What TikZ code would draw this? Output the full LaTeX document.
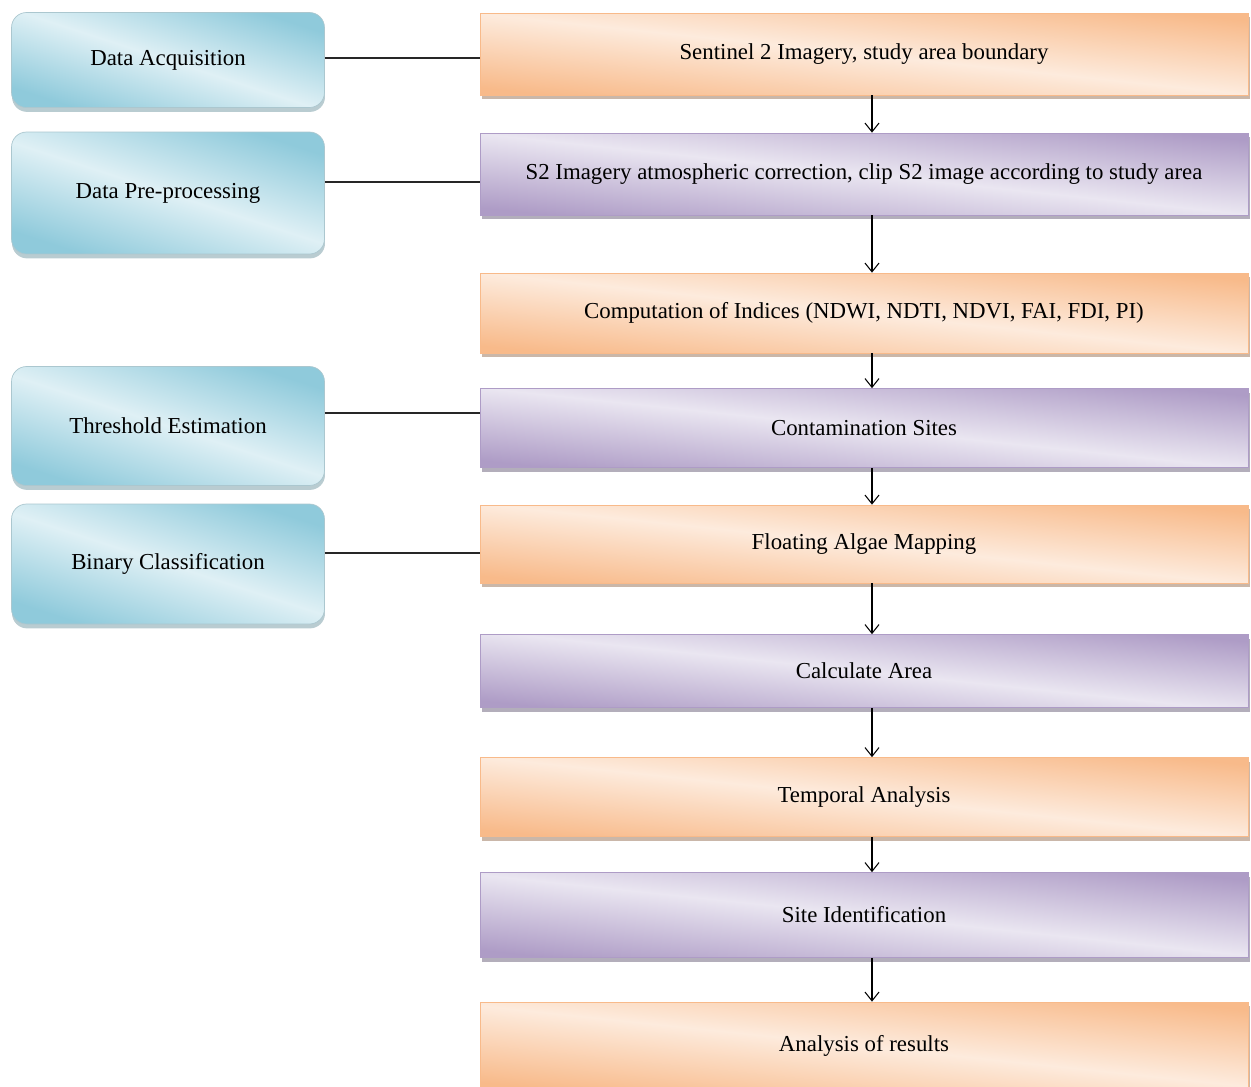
\documentclass[tikz,border=0pt]{standalone}
\usepackage{fontspec}
\setmainfont{Liberation Serif}
\usetikzlibrary{shadows,arrows.meta}

\definecolor{phaseDark}{HTML}{8FCADB}
\definecolor{phaseLight}{HTML}{DFF0F5}
\definecolor{orangeDark}{HTML}{F8BA8A}
\definecolor{orangeLight}{HTML}{FDEBDD}
\definecolor{purpleDark}{HTML}{AE9CC6}
\definecolor{purpleLight}{HTML}{EAE6F1}

\tikzstyle{phase}      = [rectangle, rounded corners=0.3cm, draw=phaseDark!80!black!60
                         , line width=0.4pt, minimum width=6.26cm, inner sep=0pt
                         , top color=phaseDark, bottom color=phaseDark
                         , middle color=phaseLight, shading angle=-18
                         , drop shadow={shadow xshift=0.3pt, shadow yshift=-2.5pt
                                       , fill=phaseDark!70!black, opacity=0.45}
                         , font=\fontsize{13}{15}\selectfont, text centered]
\tikzstyle{task}       = [rectangle, minimum width=15.36cm, inner sep=0pt
                         , line width=0.4pt
                         , font=\fontsize{13}{15}\selectfont, text centered]
\tikzstyle{orangetask} = [task, draw=orangeDark, top color=orangeDark
                         , bottom color=orangeDark, middle color=orangeLight
                         , shading angle=-6
                         , drop shadow={shadow xshift=1pt, shadow yshift=-2.5pt
                                       , fill=orangeDark!60!black, opacity=0.5}]
\tikzstyle{purpletask} = [task, draw=purpleDark, top color=purpleDark
                         , bottom color=purpleDark, middle color=purpleLight
                         , shading angle=-6
                         , drop shadow={shadow xshift=1pt, shadow yshift=-2.5pt
                                       , fill=purpleDark!60!black, opacity=0.5}]
\tikzstyle{link}       = [line width=1.1pt, black!85]
\tikzstyle{flow}       = [line width=0.6pt, -{Straight Barb[length=5pt,width=8pt]}]

\begin{document}
\begin{tikzpicture}[x=0.02cm, y=-0.02cm]
\useasboundingbox (0,0) rectangle (1251,1086);

%% Phases (left column)
\node [phase, minimum height=1.9cm]  (Acquisition)    at (168,60)  {Data Acquisition};
\node [phase, minimum height=2.44cm] (Preprocessing)  at (168,193) {Data Pre-processing};
\node [phase, minimum height=2.38cm] (Threshold)      at (168,426) {Threshold Estimation};
\node [phase, minimum height=2.4cm]  (Classification) at (168,564) {Binary Classification};

%% Tasks (right column)
\node [orangetask, minimum height=1.64cm] (Sentinel)      at (864,54)   {Sentinel 2 Imagery, study area boundary};
\node [purpletask, minimum height=1.64cm] (Correction)    at (864,174)  {S2 Imagery atmospheric correction, clip S2 image according to study area};
\node [orangetask, minimum height=1.6cm]  (Indices)       at (864,313)  {Computation of Indices (NDWI, NDTI, NDVI, FAI, FDI, PI)};
\node [purpletask, minimum height=1.58cm] (Contamination) at (864,428)  {Contamination Sites};
\node [orangetask, minimum height=1.56cm] (Algae)         at (864,544)  {Floating Algae Mapping};
\node [purpletask, minimum height=1.46cm] (Area)          at (864,671)  {Calculate Area};
\node [orangetask, minimum height=1.58cm] (Temporal)      at (864,797)  {Temporal Analysis};
\node [purpletask, minimum height=1.7cm]  (Site)          at (864,915)  {Site Identification};
\node [orangetask, minimum height=1.76cm] (Results)       at (864,1046) {Analysis of results};

%% Links between columns
\draw [link] ([yshift=0.04cm]Acquisition.east)   -- ([yshift=0.04cm]Acquisition.east -| Sentinel.west);
\draw [link] ([yshift=0.22cm]Preprocessing.east) -- ([yshift=0.22cm]Preprocessing.east -| Correction.west);
\draw [link] ([yshift=0.26cm]Threshold.east)     -- ([yshift=0.26cm]Threshold.east -| Contamination.west);
\draw [link] ([yshift=0.22cm]Classification.east) -- ([yshift=0.22cm]Classification.east -| Algae.west);

%% Flow
\foreach \a/\b in {Sentinel/Correction, Correction/Indices, Indices/Contamination,
                   Contamination/Algae, Algae/Area, Area/Temporal, Temporal/Site, Site/Results}
  \draw [flow] ([xshift=0.16cm]\a.south) -- ([xshift=0.16cm]\b.north);

\end{tikzpicture}
\end{document}
